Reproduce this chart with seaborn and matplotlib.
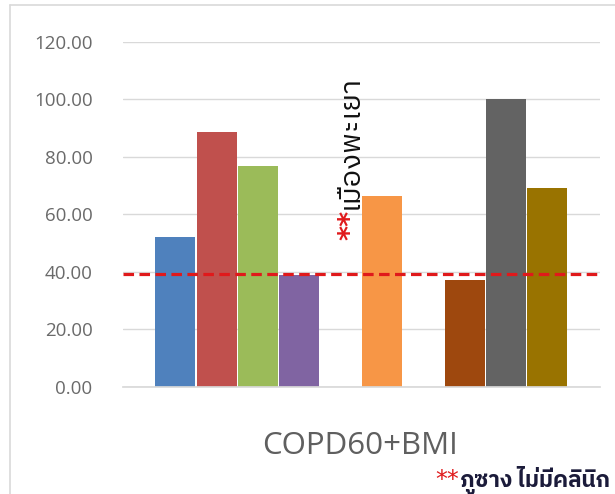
import matplotlib
matplotlib.use("Agg")
import matplotlib.pyplot as plt
from matplotlib import font_manager, ft2font
from matplotlib.lines import Line2D
import seaborn as sns
import pandas as pd

# ---- data ----
slots = ["s1", "s2", "s3", "s4", "s5", "s6", "s7", "s8", "s9", "s10"]
filled_slots = ["s1", "s2", "s3", "s4", "s6", "s8", "s9", "s10"]
values = [52.0, 88.5, 77.0, 38.8, 66.5, 37.3, 100.0, 69.0]
bar_colors = ["#4F81BD", "#C0504D", "#9BBB59", "#8064A2", "#F79646",
              "#9E480E", "#636363", "#997300"]
target_value = 39.3
y_ticks = [0, 20, 40, 60, 80, 100, 120]
category_label = "COPD60+BMI"
note_rotated = "เมืองพะเยา"
note_bottom = "ภูซาง ไม่มีคลินิก"
star = "**"


def find_thai_font():
    prefer = []
    others = []
    for f in font_manager.fontManager.ttflist:
        try:
            ft = ft2font.FT2Font(f.fname)
            if ft.get_char_index(ord("ก")):
                if "Sans" in f.name or "Thai" in f.name:
                    prefer.append(f.name)
                else:
                    others.append(f.name)
        except Exception:
            pass
    lst = prefer + others
    return lst[0] if lst else None


sns.set_theme(style="white")
base_font = "Open Sans"
thai = find_thai_font()
fam = [base_font] + ([thai] if thai else []) + ["DejaVu Sans"]
thai_fam = ([thai] if thai else []) + [base_font, "DejaVu Sans"]
plt.rcParams["font.family"] = fam

W, H = 615, 494
df = pd.DataFrame({"slot": filled_slots, "value": values})

fig = plt.figure(figsize=(W / 100, H / 100), dpi=100)
ax = fig.add_axes([123 / W, 1 - 386.7 / H, (600 - 123) / W, (386.7 - 42) / H])

sns.barplot(data=df, x="slot", y="value", hue="slot", order=slots,
            hue_order=filled_slots, palette=bar_colors, width=0.97,
            dodge=False, legend=False, ax=ax, saturation=1, linewidth=0)

ax.set_ylim(0, 120)
ax.set_xlim(-1.27, 10.28)
ax.set_yticks(y_ticks)
ax.set_yticklabels([f"{v:.2f}" for v in y_ticks], color="#6a6a6a", fontsize=13.5)
ax.tick_params(axis="y", length=0, pad=22)
ax.set_xticks([])
ax.set_xlabel("")
ax.set_ylabel("")
ax.grid(axis="y", color="#D9D9D9", linewidth=1)
ax.set_axisbelow(True)
for s in ["left", "right", "top"]:
    ax.spines[s].set_visible(False)
ax.spines["bottom"].set_color("#D9D9D9")

ax.axhline(target_value, color="#E0191B", linewidth=2.3,
           linestyle=(0, (3.3, 1.7)), clip_on=False, zorder=5)

# x category label
fig.text(360.5 / W, 1 - 446 / H, category_label, ha="center", va="center",
         fontsize=22.5, color="#5f5f5f", family=[base_font, "DejaVu Sans"])

renderer = fig.canvas.get_renderer()

# rotated note (reads bottom to top)
px_x, px_y = 358, 240  # baseline start in pixels from top-left
s_rot = fig.text(px_x / W, 1 - px_y / H, star, rotation=90, rotation_mode="anchor",
                 ha="left", va="baseline", color="#E0191B", fontsize=21,
                 fontweight="bold", family=["DejaVu Sans"])
ext = s_rot.get_window_extent(renderer)
fig.text(px_x / W, (ext.y1 + 1) / H, note_rotated, rotation=90,
         rotation_mode="anchor", ha="left", va="baseline", color="#111111",
         fontsize=21, family=thai_fam)

# bottom note
s_b = fig.text(435 / W, 1 - 487 / H, star, ha="left", va="baseline",
               color="#E0191B", fontsize=17, family=["DejaVu Sans"])
ext2 = s_b.get_window_extent(renderer)
fig.text((ext2.x1 + 1) / W, 1 - 487 / H, note_bottom, ha="left", va="baseline",
         color="#1b1b3a", fontsize=16.2, fontweight="bold", family=thai_fam)

# chart border (top, left)
fig.add_artist(Line2D([10 / W, 10 / W], [0, 1 - 5 / H], color="#D9D9D9",
                      linewidth=1.2, transform=fig.transFigure))
fig.add_artist(Line2D([10 / W, 1], [1 - 5 / H, 1 - 5 / H], color="#D9D9D9",
                      linewidth=1.2, transform=fig.transFigure))

fig.savefig("out.png", dpi=100)
